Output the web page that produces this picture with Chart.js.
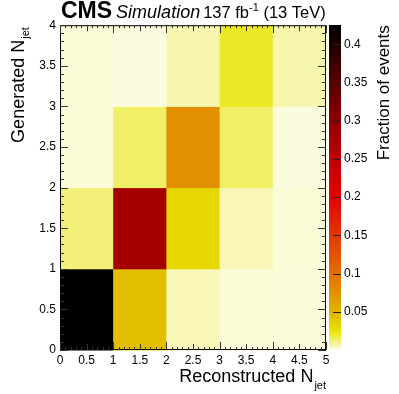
<!DOCTYPE html>
<html>
<head>
<meta charset="utf-8">
<script src="https://cdn.jsdelivr.net/npm/chart.js@4"></script>
<style>
  html, body { margin: 0; padding: 0; background: #fff; }
  canvas { display: block; }
</style>
</head>
<body>
<canvas id="njetChart" width="399" height="394"></canvas>
<script>
/* =========================
   DATA
========================= */
const recoEdges = [0, 1, 2, 3, 4, 5];
const genEdges = [0, 1, 2, 3, 4];

// fraction of events per reconstructed bin, one row per generated bin
const gen0 = [0.43, 0.045, 0.005, 0.0015, 0.0012];
const gen1 = [0.012, 0.276, 0.032, 0.005, 0.0015];
const gen2 = [0.0015, 0.014, 0.076, 0.014, 0.001];
const gen3 = [0.0015, 0.001, 0.006, 0.021, 0.006];
const rows = [gen0, gen1, gen2, gen3];

const zMax = 0.425;

/* =========================
   PALETTE
========================= */
const PALETTE = [
  [0, "#fcfce6"], [0.025, "#e8e400"], [0.05, "#e2b400"], [0.1, "#e07000"],
  [0.15, "#e23800"], [0.2, "#e40000"], [0.25, "#c00000"], [0.3, "#8c0000"],
  [0.35, "#580000"], [0.4, "#200000"], [0.425, "#000000"]
];
const FONT = "'Liberation Sans', Arial, Helvetica, sans-serif";

function hexRgb(h) {
  return [1, 3, 5].map(i => parseInt(h.slice(i, i + 2), 16));
}

function colorFor(v) {
  if (v <= PALETTE[0][0]) return PALETTE[0][1];
  for (let i = 1; i < PALETTE.length; i++) {
    if (v <= PALETTE[i][0]) {
      const [v0, c0] = PALETTE[i - 1];
      const [v1, c1] = PALETTE[i];
      const t = (v - v0) / (v1 - v0);
      const a = hexRgb(c0), b = hexRgb(c1);
      const c = a.map((x, k) => Math.round(x + (b[k] - x) * t));
      return `rgb(${c[0]},${c[1]},${c[2]})`;
    }
  }
  return PALETTE[PALETTE.length - 1][1];
}

const points = [];
rows.forEach((row, j) => {
  row.forEach((v, i) => {
    points.push({ x: (recoEdges[i] + recoEdges[i + 1]) / 2, y: (genEdges[j] + genEdges[j + 1]) / 2, v });
  });
});

/* =========================
   DRAWING PLUGIN
========================= */
const heatmapPlugin = {
  id: "heatmap",
  beforeDatasetsDraw(chart) {
    const { ctx, scales: { x, y } } = chart;
    ctx.save();
    rows.forEach((row, j) => {
      row.forEach((v, i) => {
        const x0 = x.getPixelForValue(recoEdges[i]);
        const x1 = x.getPixelForValue(recoEdges[i + 1]);
        const y0 = y.getPixelForValue(genEdges[j + 1]);
        const y1 = y.getPixelForValue(genEdges[j]);
        ctx.fillStyle = colorFor(v);
        ctx.fillRect(x0, y0, x1 - x0 + 0.5, y1 - y0 + 0.5);
      });
    });
    ctx.restore();
  },
  afterDraw(chart) {
    const { ctx, chartArea: a, scales: { x, y, z } } = chart;
    ctx.save();

    // colour bar
    const cbL = a.right + 3, cbR = a.right + 15;
    for (let py = Math.floor(z.top); py < z.bottom; py++) {
      ctx.fillStyle = colorFor(z.getValueForPixel(py + 0.5));
      ctx.fillRect(cbL, py, cbR - cbL, 1);
    }
    ctx.strokeStyle = "#222";
    ctx.lineWidth = 1;
    for (let v = 0.05; v < zMax; v += 0.05) {
      const py = Math.round(z.getPixelForValue(v)) + 0.5;
      ctx.beginPath();
      ctx.moveTo(cbR - 8, py);
      ctx.lineTo(cbR, py);
      ctx.stroke();
    }

    // frame and inner ticks
    ctx.strokeStyle = "#000";
    ctx.strokeRect(a.left + 0.5, a.top + 0.5, a.right - a.left - 1, a.bottom - a.top - 1);
    ctx.strokeStyle = "#333";
    ctx.beginPath();
    for (let k = 0; k <= 50; k++) {
      const v = k / 10;
      const len = k % 10 === 0 ? 8 : (k % 5 === 0 ? 6 : 3);
      const px = Math.round(x.getPixelForValue(v)) + 0.5;
      ctx.moveTo(px, a.bottom); ctx.lineTo(px, a.bottom - len);
      ctx.moveTo(px, a.top); ctx.lineTo(px, a.top + len);
    }
    for (let k = 0; k <= 40; k++) {
      const v = k / 10;
      const len = k % 5 === 0 ? 8 : 4;
      const py = Math.round(y.getPixelForValue(v)) + 0.5;
      ctx.moveTo(a.left, py); ctx.lineTo(a.left + len, py);
      ctx.moveTo(a.right, py); ctx.lineTo(a.right - len, py);
    }
    ctx.stroke();

    // header
    ctx.fillStyle = "#000";
    ctx.textBaseline = "alphabetic";
    ctx.textAlign = "left";
    let hx = a.left + 1;
    ctx.font = `bold 23px ${FONT}`;
    ctx.fillText("CMS", hx, 18);
    hx += ctx.measureText("CMS").width + 4;
    ctx.font = `italic 18px ${FONT}`;
    ctx.fillText("Simulation", hx, 18);
    hx += ctx.measureText("Simulation").width + 3;
    ctx.font = `16.5px ${FONT}`;
    ctx.fillText("137 fb", hx, 18);
    hx += ctx.measureText("137 fb").width;
    ctx.font = `11px ${FONT}`;
    ctx.fillText("-1", hx, 11);
    hx += ctx.measureText("-1").width;
    ctx.font = `16.5px ${FONT}`;
    ctx.fillText(" (13 TeV)", hx, 18);

    // x title, right aligned to axis end
    ctx.font = `11px ${FONT}`;
    const subW = ctx.measureText("jet").width;
    ctx.textAlign = "right";
    ctx.fillText("jet", a.right, 389);
    ctx.font = `18px ${FONT}`;
    ctx.fillText("Reconstructed N", a.right - subW - 1, 382);

    // y title
    ctx.save();
    ctx.translate(24, a.top + 2);
    ctx.rotate(-Math.PI / 2);
    ctx.textAlign = "right";
    ctx.font = `11px ${FONT}`;
    ctx.fillText("jet", 0, 5);
    ctx.font = `18px ${FONT}`;
    ctx.fillText("Generated N", -subW - 1, 0);
    ctx.restore();

    // z title
    ctx.save();
    ctx.translate(389, a.top);
    ctx.rotate(-Math.PI / 2);
    ctx.textAlign = "right";
    ctx.font = `17px ${FONT}`;
    ctx.fillText("Fraction of events", 0, 0);
    ctx.restore();

    ctx.restore();
  }
};

/* =========================
   CHART SETUP
========================= */
const tickFont = { family: FONT, size: 12 };

new Chart(document.getElementById("njetChart").getContext("2d"), {
  type: "scatter",
  data: {
    datasets: [{
      data: points,
      pointRadius: 0,
      pointHoverRadius: 0,
      showLine: false
    }]
  },
  options: {
    responsive: false,
    animation: false,
    devicePixelRatio: 1,
    layout: { padding: { top: 24, left: 0, right: 0, bottom: 0 } },
    plugins: { legend: { display: false }, tooltip: { enabled: false } },
    scales: {
      x: {
        type: "linear", position: "bottom", min: 0, max: 5,
        grid: { display: false, drawTicks: false }, border: { display: false },
        ticks: { stepSize: 0.5, padding: 3, color: "#000", font: tickFont, maxRotation: 0, autoSkip: false, callback: v => String(v) },
        afterFit: s => { s.height = 44; }
      },
      y: {
        type: "linear", position: "left", min: 0, max: 4,
        grid: { display: false, drawTicks: false }, border: { display: false },
        ticks: { stepSize: 0.5, padding: 4, color: "#000", font: tickFont, autoSkip: false, callback: v => String(v) },
        afterFit: s => { s.width = 60; }
      },
      z: {
        type: "linear", position: "right", min: 0, max: zMax,
        grid: { display: false, drawTicks: false }, border: { display: false },
        ticks: {
          stepSize: 0.05, includeBounds: false, padding: 18, color: "#000", font: tickFont, autoSkip: false,
          callback: v => (v < 0.01 ? "" : String(Number(v.toFixed(2))))
        },
        afterFit: s => { s.width = 73; }
      }
    }
  },
  plugins: [heatmapPlugin]
});
</script>
</body>
</html>
